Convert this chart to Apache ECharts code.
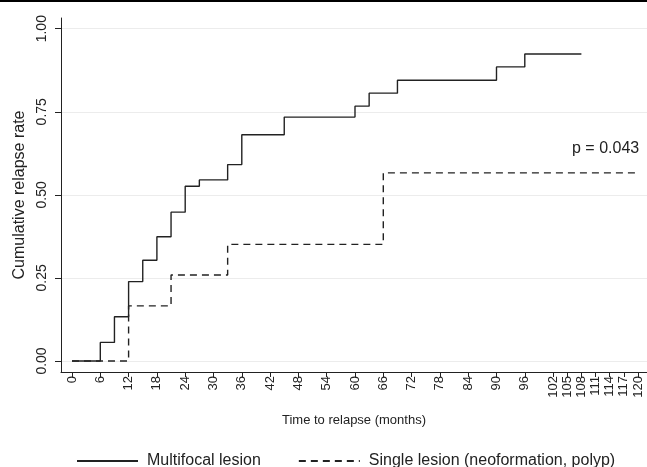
<!DOCTYPE html>
<html>
<head>
<meta charset="utf-8">
<script src="https://cdn.jsdelivr.net/npm/echarts@6/dist/echarts.min.js"></script>
<style>html,body{margin:0;padding:0;background:#fff;}#c{width:647px;height:467px;}</style>
</head>
<body>
<div id="c"></div>
<script>
// ---- data ----
const multiTimes  = [0, 6, 9, 12, 15, 18, 21, 24, 27, 33, 36, 45, 60, 63, 69, 90, 96, 108];
const multiValues = [0, 0.056, 0.133, 0.239, 0.303, 0.374, 0.448, 0.526, 0.545, 0.591, 0.681, 0.734, 0.767, 0.806, 0.845, 0.885, 0.924, 0.924];
const singleTimes  = [0, 12, 21, 33, 66, 120];
const singleValues = [0, 0.166, 0.259, 0.351, 0.566, 0.566];
const xTicks = [0, 6, 12, 18, 24, 30, 36, 42, 48, 54, 60, 66, 72, 78, 84, 90, 96, 102, 105, 108, 111, 114, 117, 120];
const yTicks = [0, 0.25, 0.5, 0.75, 1];
const seriesNames = ['Multifocal lesion', 'Single lesion (neoformation, polyp)'];
const pText = 'p = 0.043';

const toPairs = (t, v) => t.map((x, i) => [x, v[i]]);
const ink = '#222222';
const font = 'Liberation Sans, Arial, Helvetica, sans-serif';

const chart = echarts.init(document.getElementById('c'), null, {renderer: 'canvas'});
chart.setOption({
  animation: false,
  backgroundColor: '#fff',
  textStyle: {fontFamily: font},
  grid: {left: 61, right: 0, top: 18, bottom: 95, outerBoundsMode: 'none', containLabel: false},
  xAxis: {
    type: 'value', min: -2.332, max: 121.91,
    name: 'Time to relapse (months)', nameLocation: 'middle', nameGap: 42,
    nameTextStyle: {fontSize: 13, color: ink, fontFamily: font},
    axisLine: {show: true, onZero: false, lineStyle: {color: ink, width: 1}},
    axisTick: {show: true, customValues: xTicks, length: 5, lineStyle: {color: ink}},
    axisLabel: {customValues: xTicks, rotate: 90, fontSize: 13, color: ink, margin: 4, fontFamily: font},
    splitLine: {show: false}
  },
  yAxis: {
    type: 'value', min: -0.0331, max: 1.0322,
    name: 'Cumulative relapse rate', nameLocation: 'middle', nameGap: 33,
    nameTextStyle: {fontSize: 16, color: ink, fontFamily: font},
    axisLine: {show: true, onZero: false, lineStyle: {color: ink, width: 1}},
    axisTick: {show: true, customValues: yTicks, length: 6, lineStyle: {color: ink}},
    axisLabel: {customValues: yTicks, rotate: 90, fontSize: 14, color: ink, margin: 12, fontFamily: font,
      formatter: v => v.toFixed(2)},
    splitLine: {show: true, lineStyle: {color: '#ececec', width: 1}}
  },
  legend: {
    left: 71, top: 448, itemWidth: 61, itemHeight: 14, itemGap: 37,
    itemStyle: {opacity: 0},
    textStyle: {fontSize: 16, color: ink, fontFamily: font, padding: [0, 0, 0, 4]},
    data: seriesNames
  },
  series: [
    {
      name: seriesNames[0], type: 'line', step: 'end', symbol: 'none',
      data: toPairs(multiTimes, multiValues),
      lineStyle: {color: ink, width: 1.4}, itemStyle: {color: ink}
    },
    {
      name: seriesNames[1], type: 'line', step: 'end', symbol: 'none',
      data: toPairs(singleTimes, singleValues),
      lineStyle: {color: ink, width: 1.4, type: [7, 5]}, itemStyle: {color: ink}
    }
  ],
  graphic: [
    {type: 'rect', left: 0, top: 0, shape: {width: 647, height: 2}, style: {fill: '#000'}},
    {type: 'text', left: 572, top: 141, style: {text: pText, fontSize: 16, fill: ink, fontFamily: font}}
  ]
});
</script>
</body>
</html>
